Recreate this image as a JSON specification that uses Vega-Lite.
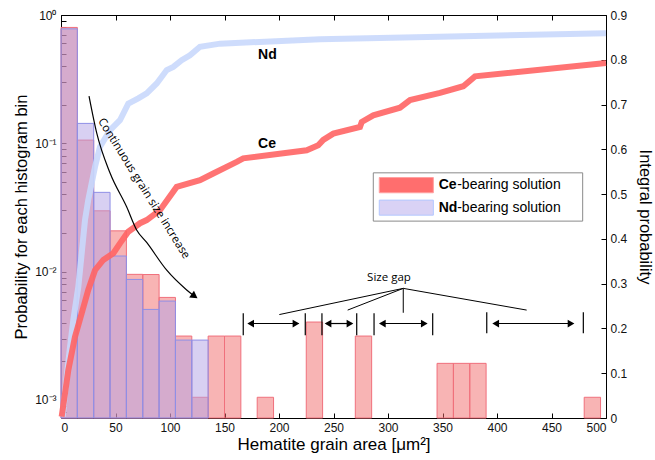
{
  "$schema": "https://vega.github.io/schema/vega-lite/v6.json",
  "width": 545,
  "height": 403,
  "autosize": {"type": "none"},
  "padding": {"left": 61, "top": 15, "right": 49, "bottom": 42},
  "background": "white",
  "config": {
    "view": {"stroke": null},
    "font": "Liberation Sans",
    "axis": {
      "domainColor": "#000",
      "tickColor": "#000",
      "labelColor": "#111",
      "titleColor": "#000",
      "labelFont": "Liberation Sans",
      "titleFont": "Liberation Sans",
      "titleFontWeight": "normal",
      "labelFontSize": 12,
      "titleFontSize": 16,
      "grid": false,
      "tickSize": -5
    }
  },
  "datasets": {
    "ce_hist": [
      {"x0": 0, "x1": 15, "p": 0.8},
      {"x0": 15, "x1": 30, "p": 0.106},
      {"x0": 30, "x1": 45, "p": 0.0298},
      {"x0": 45, "x1": 60, "p": 0.0208},
      {"x0": 60, "x1": 75, "p": 0.00953},
      {"x0": 75, "x1": 90, "p": 0.0095},
      {"x0": 90, "x1": 105, "p": 0.0063},
      {"x0": 105, "x1": 120, "p": 0.00315},
      {"x0": 120, "x1": 135, "p": 0.00105},
      {"x0": 135, "x1": 150, "p": 0.00315},
      {"x0": 150, "x1": 165, "p": 0.00315},
      {"x0": 180, "x1": 195, "p": 0.00105},
      {"x0": 225, "x1": 240, "p": 0.00405},
      {"x0": 270, "x1": 285, "p": 0.00315},
      {"x0": 345, "x1": 360, "p": 0.00193},
      {"x0": 360, "x1": 375, "p": 0.00193},
      {"x0": 375, "x1": 390, "p": 0.00193},
      {"x0": 480, "x1": 495, "p": 0.00105}
    ],
    "nd_hist": [
      {"x0": 0, "x1": 15, "p": 0.78},
      {"x0": 15, "x1": 30, "p": 0.143},
      {"x0": 30, "x1": 45, "p": 0.0415},
      {"x0": 45, "x1": 60, "p": 0.01324},
      {"x0": 60, "x1": 75, "p": 0.0087},
      {"x0": 75, "x1": 90, "p": 0.00508},
      {"x0": 90, "x1": 105, "p": 0.0059},
      {"x0": 105, "x1": 120, "p": 0.00293},
      {"x0": 120, "x1": 135, "p": 0.00293}
    ],
    "ce_cum": [
      {"x": 0.6, "y": 0.003},
      {"x": 3.7, "y": 0.055},
      {"x": 6.7, "y": 0.107},
      {"x": 12.8, "y": 0.181},
      {"x": 19, "y": 0.234},
      {"x": 25, "y": 0.286},
      {"x": 31.2, "y": 0.33},
      {"x": 38.8, "y": 0.353},
      {"x": 48, "y": 0.368},
      {"x": 54.1, "y": 0.39},
      {"x": 61.7, "y": 0.416},
      {"x": 72.5, "y": 0.435},
      {"x": 78.6, "y": 0.442},
      {"x": 90.8, "y": 0.464},
      {"x": 106.1, "y": 0.516},
      {"x": 127.5, "y": 0.531},
      {"x": 139.7, "y": 0.546},
      {"x": 161.2, "y": 0.572},
      {"x": 167.2, "y": 0.58},
      {"x": 225.4, "y": 0.598},
      {"x": 236, "y": 0.609},
      {"x": 240.6, "y": 0.621},
      {"x": 249.8, "y": 0.635},
      {"x": 274.3, "y": 0.65},
      {"x": 275.9, "y": 0.661},
      {"x": 286.5, "y": 0.676},
      {"x": 311, "y": 0.693},
      {"x": 320.2, "y": 0.71},
      {"x": 347.7, "y": 0.726},
      {"x": 369.1, "y": 0.741},
      {"x": 379.8, "y": 0.763},
      {"x": 500, "y": 0.793}
    ],
    "nd_cum": [
      {"x": 1.6, "y": 0.003},
      {"x": 5.2, "y": 0.092},
      {"x": 8.3, "y": 0.159},
      {"x": 11.3, "y": 0.219},
      {"x": 15.9, "y": 0.293},
      {"x": 19, "y": 0.368},
      {"x": 22, "y": 0.442},
      {"x": 25, "y": 0.487},
      {"x": 31.2, "y": 0.561},
      {"x": 35.8, "y": 0.606},
      {"x": 45, "y": 0.643},
      {"x": 54.1, "y": 0.665},
      {"x": 61.7, "y": 0.702},
      {"x": 70.9, "y": 0.714},
      {"x": 78.6, "y": 0.725},
      {"x": 87.8, "y": 0.747},
      {"x": 97, "y": 0.777},
      {"x": 103, "y": 0.784},
      {"x": 110.7, "y": 0.799},
      {"x": 118.3, "y": 0.81},
      {"x": 127.5, "y": 0.829},
      {"x": 145.9, "y": 0.836},
      {"x": 237.6, "y": 0.846},
      {"x": 500, "y": 0.859}
    ],
    "curve": [
      {"x": 25.7, "y": 0.719},
      {"x": 32.8, "y": 0.636},
      {"x": 45, "y": 0.547},
      {"x": 60.3, "y": 0.471},
      {"x": 69.4, "y": 0.42},
      {"x": 78.6, "y": 0.392},
      {"x": 97, "y": 0.33},
      {"x": 115.3, "y": 0.286},
      {"x": 122.5, "y": 0.272}
    ],
    "curve_head": [{"x": 122.5, "y": 0.272}],
    "series_labels": [
      {"x": 189.4, "y": 0.81, "t": "Nd"},
      {"x": 189, "y": 0.612, "t": "Ce"}
    ],
    "trend_label": [{"x": 75.7, "y": 0.512, "t": "Continuous grain size increase"}],
    "gap_label": [{"x": 300.9, "y": 0.3125, "t": "Size gap"}],
    "gap_lines": [
      {"x": 314, "y": 0.2895, "x2": 200.3, "y2": 0.231},
      {"x": 314, "y": 0.2895, "x2": 263, "y2": 0.241},
      {"x": 314, "y": 0.2895, "x2": 314, "y2": 0.235},
      {"x": 314, "y": 0.2895, "x2": 427.2, "y2": 0.241}
    ],
    "gap_bars": [
      {"x": 167.2, "y": 0.234, "y2": 0.185},
      {"x": 224.1, "y": 0.234, "y2": 0.185},
      {"x": 239.4, "y": 0.234, "y2": 0.185},
      {"x": 271.3, "y": 0.234, "y2": 0.185},
      {"x": 287.2, "y": 0.234, "y2": 0.185},
      {"x": 341, "y": 0.234, "y2": 0.185},
      {"x": 390.6, "y": 0.236, "y2": 0.189},
      {"x": 479.2, "y": 0.236, "y2": 0.189}
    ],
    "gap_arrows": [
      {"x": 172, "x2": 218, "y": 0.211},
      {"x": 243, "x2": 267, "y": 0.211},
      {"x": 293, "x2": 335, "y": 0.211},
      {"x": 397, "x2": 470, "y": 0.211}
    ],
    "gap_heads": [
      {"x": 174, "y": 0.211, "d": "left"},
      {"x": 215.6, "y": 0.211, "d": "right"},
      {"x": 245, "y": 0.211, "d": "left"},
      {"x": 265.1, "y": 0.211, "d": "right"},
      {"x": 294.8, "y": 0.211, "d": "left"},
      {"x": 333.3, "y": 0.211, "d": "right"},
      {"x": 398.8, "y": 0.211, "d": "left"},
      {"x": 467.9, "y": 0.211, "d": "right"}
    ],
    "legend_box": [{"x": 286.5, "x2": 478.6, "y": 0.5475, "y2": 0.4397}],
    "legend_swatch": [
      {"s": "Ce", "x": 292, "x2": 341.6, "y": 0.537, "y2": 0.503},
      {"s": "Nd", "x": 292, "x2": 341.6, "y": 0.4866, "y2": 0.453}
    ],
    "legend_text": [
      {"s": "Ce", "x": 346.5, "y": 0.52, "t": "-bearing solution"},
      {"s": "Nd", "x": 346.5, "y": 0.47, "t": "-bearing solution"}
    ]
  },
  "layer": [
    {
      "encoding": {
        "x": {
          "field": "x0",
          "type": "quantitative",
          "scale": {"domain": [0, 500], "nice": false},
          "axis": {
            "orient": "bottom",
            "values": [0, 50, 100, 150, 200, 250, 300, 350, 400, 450, 500],
            "title": "Hematite grain area [μm²]",
            "titleFontSize": 17,
            "labelPadding": 9,
            "titlePadding": 3
          }
        },
        "x2": {"field": "x1"},
        "y": {
          "field": "p",
          "type": "quantitative",
          "scale": {"type": "log", "domain": [0.000724, 1], "nice": false},
          "axis": {
            "orient": "left",
            "values": [0.0008, 0.0009, 0.001, 0.002, 0.003, 0.004, 0.005, 0.006, 0.007, 0.008, 0.009, 0.01, 0.02, 0.03, 0.04, 0.05, 0.06, 0.07, 0.08, 0.09, 0.1, 0.2, 0.3, 0.4, 0.5, 0.6, 0.7, 0.8, 0.9, 1],
            "labelExpr": "datum.value == 1 ? '10⁰' : datum.value == 0.1 ? '10⁻¹' : datum.value == 0.01 ? '10⁻²' : datum.value == 0.001 ? '10⁻³' : ''",
            "title": "Probability for each histogram bin",
            "titleFontSize": 16.5,
            "labelPadding": 10,
            "titlePadding": 5
          }
        },
        "y2": {"datum": 0.000724}
      },
      "layer": [
        {
          "data": {"name": "ce_hist"},
          "mark": {"type": "bar", "fill": "#f16969", "fillOpacity": 0.5, "stroke": "#f0707c", "strokeWidth": 1}
        },
        {
          "data": {"name": "nd_hist"},
          "mark": {"type": "bar", "fill": "#b1a1e5", "fillOpacity": 0.5, "stroke": "#8f8fe6", "strokeWidth": 1}
        }
      ]
    },
    {
      "encoding": {
        "x": {
          "field": "x",
          "type": "quantitative",
          "scale": {"domain": [0, 500], "nice": false},
          "axis": {
            "orient": "top",
            "values": [0, 50, 100, 150, 200, 250, 300, 350, 400, 450, 500],
            "labels": false,
            "title": null
          }
        },
        "y": {
          "field": "y",
          "type": "quantitative",
          "scale": {"domain": [0, 0.9], "nice": false},
          "axis": {
            "orient": "right",
            "values": [0, 0.1, 0.2, 0.3, 0.4, 0.5, 0.6, 0.7, 0.8, 0.9],
            "labelExpr": "datum.value == 0 ? '0' : format(datum.value, '.1f')",
            "title": "Integral probability",
            "titleFontSize": 16.5,
            "labelPadding": 9,
            "titlePadding": 10
          }
        }
      },
      "layer": [
        {
          "data": {"name": "nd_cum"},
          "mark": {"type": "line", "stroke": "#c9d8fc", "strokeWidth": 6, "opacity": 0.9}
        },
        {
          "data": {"name": "ce_cum"},
          "mark": {"type": "line", "stroke": "#ff6464", "strokeWidth": 6, "opacity": 0.9}
        },
        {
          "data": {"name": "series_labels"},
          "mark": {"type": "text", "font": "Liberation Sans", "fontWeight": "bold", "fontSize": 14, "align": "center", "baseline": "middle", "color": "#000"},
          "encoding": {"text": {"field": "t"}}
        },
        {
          "data": {"name": "trend_label"},
          "mark": {"type": "text", "font": "Open Sans", "fontSize": 11.5, "angle": 58, "align": "center", "baseline": "middle", "color": "#000"},
          "encoding": {"text": {"field": "t"}}
        },
        {
          "data": {"name": "curve"},
          "mark": {"type": "line", "stroke": "#000", "strokeWidth": 1.2, "interpolate": "monotone"}
        },
        {
          "data": {"name": "curve_head"},
          "mark": {"type": "point", "shape": "triangle-right", "angle": 35, "size": 70, "filled": true, "color": "#000", "opacity": 1}
        },
        {
          "data": {"name": "gap_label"},
          "mark": {"type": "text", "font": "Open Sans", "fontSize": 11.5, "align": "center", "baseline": "middle", "color": "#000"},
          "encoding": {"text": {"field": "t"}}
        },
        {
          "data": {"name": "gap_lines"},
          "mark": {"type": "rule", "stroke": "#000", "strokeWidth": 1},
          "encoding": {"x2": {"field": "x2"}, "y2": {"field": "y2"}}
        },
        {
          "data": {"name": "gap_bars"},
          "mark": {"type": "rule", "stroke": "#000", "strokeWidth": 1.2},
          "encoding": {"y2": {"field": "y2"}}
        },
        {
          "data": {"name": "gap_arrows"},
          "mark": {"type": "rule", "stroke": "#000", "strokeWidth": 1.2},
          "encoding": {"x2": {"field": "x2"}}
        },
        {
          "data": {"name": "gap_heads"},
          "mark": {"type": "point", "size": 60, "filled": true, "color": "#000", "opacity": 1},
          "encoding": {
            "shape": {"field": "d", "type": "nominal", "scale": {"domain": ["left", "right"], "range": ["triangle-left", "triangle-right"]}, "legend": null}
          }
        },
        {
          "data": {"name": "legend_box"},
          "mark": {"type": "rect", "fill": "#fff", "stroke": "#8a8a8a", "strokeWidth": 1},
          "encoding": {"x2": {"field": "x2"}, "y2": {"field": "y2"}}
        },
        {
          "data": {"name": "legend_swatch"},
          "mark": {"type": "rect", "strokeWidth": 1},
          "encoding": {
            "x2": {"field": "x2"},
            "y2": {"field": "y2"},
            "fill": {"field": "s", "type": "nominal", "scale": {"domain": ["Ce", "Nd"], "range": ["#ff6e6e", "#d9d2f5"]}, "legend": null},
            "stroke": {"field": "s", "type": "nominal", "scale": {"domain": ["Ce", "Nd"], "range": ["#ffa0a0", "#b4c8ff"]}, "legend": null}
          }
        },
        {
          "data": {"name": "legend_text"},
          "mark": {"type": "text", "font": "Liberation Sans", "fontWeight": "bold", "fontSize": 14, "align": "left", "baseline": "middle", "color": "#000"},
          "encoding": {"text": {"field": "s"}}
        },
        {
          "data": {"name": "legend_text"},
          "mark": {"type": "text", "font": "Liberation Sans", "fontSize": 14, "align": "left", "baseline": "middle", "dx": 18.5, "color": "#000"},
          "encoding": {"text": {"field": "t"}}
        }
      ]
    }
  ],
  "resolve": {"scale": {"y": "independent"}, "axis": {"x": "independent"}}
}
